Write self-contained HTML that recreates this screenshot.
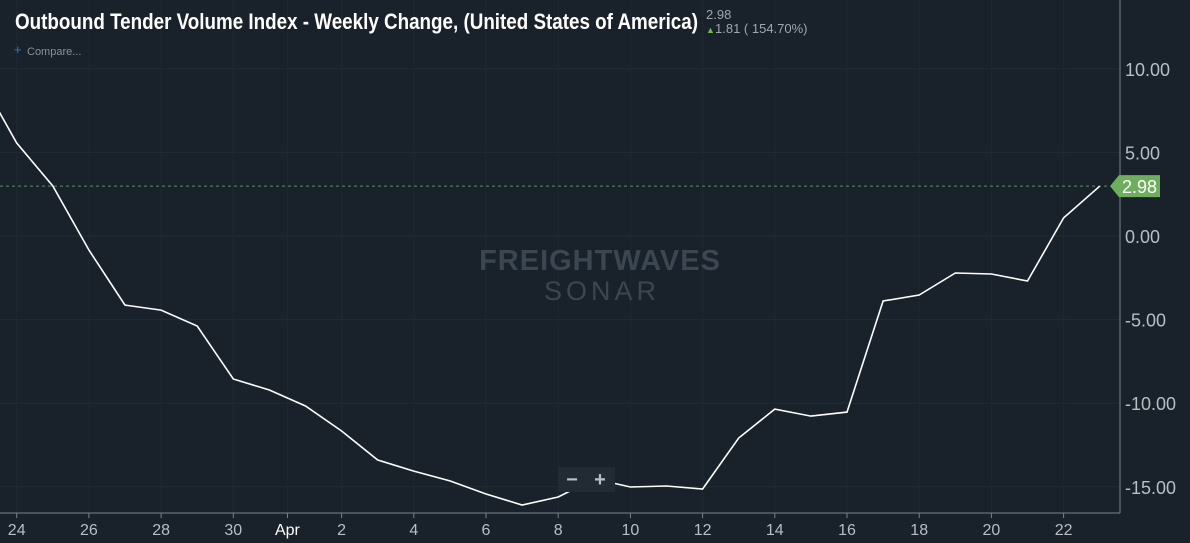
<!DOCTYPE html>
<html><head><meta charset="utf-8"><style>
html,body{margin:0;padding:0;background:#19212a;width:1190px;height:543px;overflow:hidden;font-family:"Liberation Sans",sans-serif}
svg{display:block}
</style></head><body>
<svg id="chart" width="1190" height="543">
<rect width="1190" height="543" fill="#19212a"/>
<g id="grid"></g>
<g id="wm">
<text x="600" y="270" text-anchor="middle" font-size="29" font-weight="bold" fill="#3c4650" letter-spacing="1">FREIGHTWAVES</text>
<text x="602" y="300" text-anchor="middle" font-size="27" fill="#3c4650" letter-spacing="4">SONAR</text>
</g>
<line x1="1120" y1="0" x2="1120" y2="513" stroke="#7a828a" stroke-width="1"/>
<line x1="0" y1="513" x2="1120" y2="513" stroke="#7a828a" stroke-width="1"/>
<g id="yticks"></g>
<g id="xticks"></g>
<line id="lastline" x1="0" x2="1110" stroke="#5f8a6a" stroke-dasharray="3,3" stroke-width="1"/>
<path id="series" fill="none" stroke="#ffffff" stroke-width="1.6"/>
<g>
<rect x="558" y="467" width="57" height="25" fill="#222b34"/>
<text x="572" y="486" text-anchor="middle" font-size="20" font-weight="bold" fill="#b8bec4">−</text>
<text x="600" y="486" text-anchor="middle" font-size="20" font-weight="bold" fill="#b8bec4">+</text>
</g>
<g id="lastlabel"></g>
<text x="15" y="29" font-size="22" font-weight="bold" fill="#ffffff" textLength="683" lengthAdjust="spacingAndGlyphs">Outbound Tender Volume Index - Weekly Change, (United States of America)</text>
<text x="706" y="19" font-size="13" fill="#a0a6ac">2.98</text>
<text x="706" y="33" font-size="9" fill="#6dbb4a">▲</text>
<text x="715" y="33" font-size="13" fill="#a0a6ac">1.81 ( 154.70%)</text>
<text x="14" y="54" font-size="13" fill="#3a6fd8">+</text>
<text x="27" y="55" font-size="11" fill="#8a9098">Compare...</text>
</svg>
<script>
const yTicks=[10,5,0,-5,-10,-15];
const xLabels=["24","26","28","30","Apr","2","4","6","8","10","12","14","16","18","20","22"];
const xLabelDays=[1,3,5,7,8.5,10,12,14,16,18,20,22,24,26,28,30];
const values=[9.4,5.56,2.99,-0.84,-4.13,-4.43,-5.38,-8.55,-9.21,-10.17,-11.66,-13.40,-14.06,-14.65,-15.43,-16.09,-15.61,-14.53,-15.01,-14.95,-15.13,-12.08,-10.35,-10.77,-10.53,-3.89,-3.53,-2.21,-2.27,-2.69,1.08,2.98];
const lastValue=2.98;
// day 0 = Mar 23
const X=d=>16.7+(d-1)*36.1;
const Y=v=>236-v*16.72;
const NS="http://www.w3.org/2000/svg";
const svg=document.getElementById('chart');
const grid=document.getElementById('grid'),yt=document.getElementById('yticks'),xt=document.getElementById('xticks');
yTicks.forEach(v=>{
 const g=document.createElementNS(NS,'line');
 
 
 g.setAttribute('x1',0);g.setAttribute('x2',1120);g.setAttribute('y1',Y(v));g.setAttribute('y2',Y(v));
 g.setAttribute('stroke','#222c35');grid.appendChild(g);
 const t=document.createElementNS(NS,'text');
 
 
 t.setAttribute('x',1125);t.setAttribute('y',Y(v)+7);t.setAttribute('font-size','18');t.setAttribute('fill','#b8bec4');
 t.textContent=v.toFixed(2);yt.appendChild(t);
});
xLabels.forEach((l,i)=>{
 const x=X(xLabelDays[i]);
 const g=document.createElementNS(NS,'line');
 
 
 g.setAttribute('x1',x);g.setAttribute('x2',x);g.setAttribute('y1',0);g.setAttribute('y2',513);
 g.setAttribute('stroke','#1f2831');grid.appendChild(g);
 const k=document.createElementNS(NS,'line');
 
 
 k.setAttribute('x1',x);k.setAttribute('x2',x);k.setAttribute('y1',513);k.setAttribute('y2',518);
 k.setAttribute('stroke','#7a828a');xt.appendChild(k);
 const t=document.createElementNS(NS,'text');
 
 
 t.setAttribute('x',x);t.setAttribute('y',535);t.setAttribute('text-anchor','middle');t.setAttribute('font-size','16');
 t.setAttribute('fill',l==='Apr'?'#ffffff':'#b8bec4');
 t.textContent=l;xt.appendChild(t);
});
document.getElementById('series').setAttribute('d',values.map((v,i)=>(i?'L':'M')+X(i).toFixed(1)+','+Y(v).toFixed(1)).join(''));
const ly=Y(lastValue);
const ll=document.getElementById('lastline');ll.setAttribute('y1',ly);ll.setAttribute('y2',ly);
const lab=document.getElementById('lastlabel');
const p=document.createElementNS(NS,'path');


p.setAttribute('d',`M1110,${ly}L1119,${ly-11}H1160V${ly+11}H1119Z`);p.setAttribute('fill','#6fae5e');lab.appendChild(p);
const lt=document.createElementNS(NS,'text');


lt.setAttribute('x',1122);lt.setAttribute('y',ly+7);lt.setAttribute('font-size','18');lt.setAttribute('fill','#ffffff');
lt.textContent=lastValue.toFixed(2);lab.appendChild(lt);
</script>
</body></html>
